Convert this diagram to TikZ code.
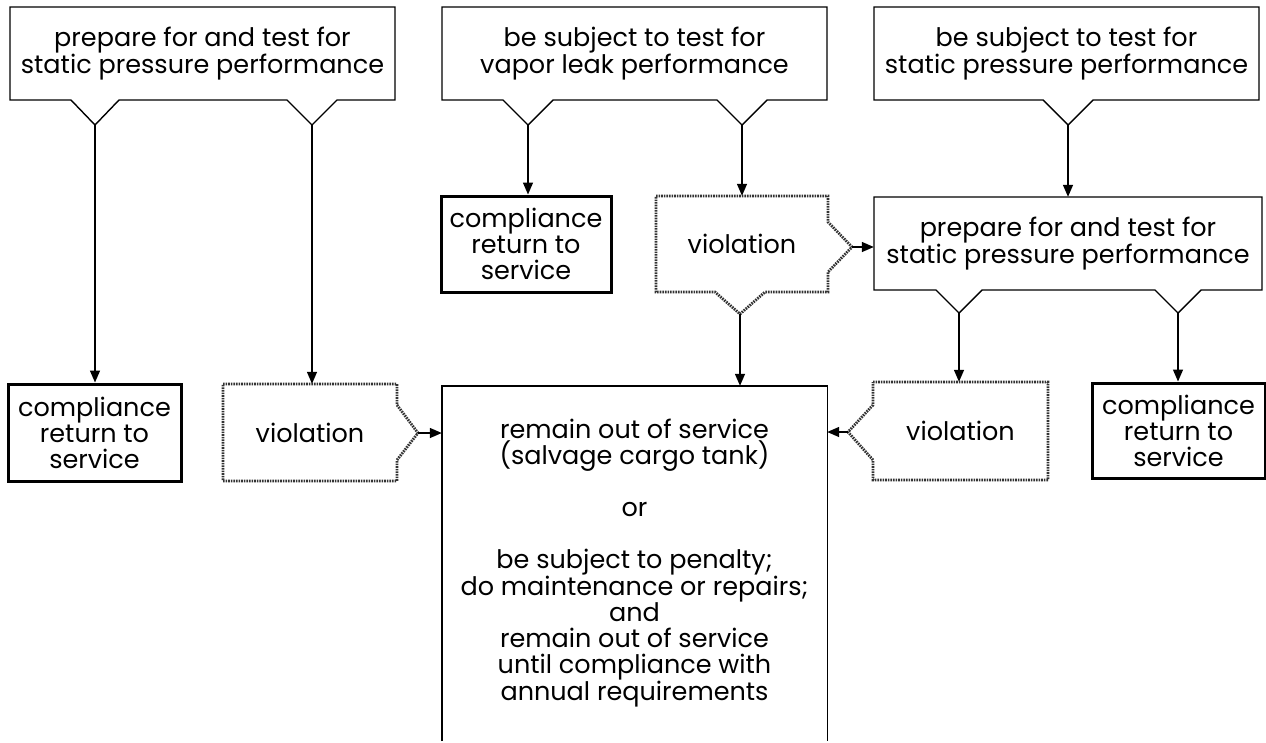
\documentclass[tikz,border=0pt]{standalone}
\usepackage{fontspec}
\setmainfont{Poppins}
\usetikzlibrary{arrows.meta}

\tikzset{
  txt/.style={align=center,font=\fontsize{25.5}{26}\selectfont,inner sep=0pt},
  plain/.style={line width=1.4pt,line join=miter},
  comply/.style={draw,line width=3pt,inner sep=0pt},
  viol/.style={draw=black!80,line width=2.8pt,dash pattern=on 1.6pt off 1pt},
  arr/.style={line width=1.4pt,-{Triangle[length=12pt,width=10pt]}},
}

\begin{document}
\begin{tikzpicture}[x=1pt,y=-1pt]
  \useasboundingbox (0,0) rectangle (1266,742);

  % top row
  \node[txt] (TL) at (202.5,53.5) {prepare for and test for\\static pressure performance};
  \draw[plain] (10,7) -- (395,7) -- (395,100) -- (337,100) -- (312,125) coordinate (tl2)
    -- (287,100) -- (119,100) -- (95,125) coordinate (tl1) -- (71,100) -- (10,100) -- cycle;

  \node[txt] (TM) at (634.5,53.5) {be subject to test for\\vapor leak performance};
  \draw[plain] (442,7) -- (827,7) -- (827,100) -- (767,100) -- (742,125) coordinate (tm2)
    -- (717,100) -- (553,100) -- (528,125) coordinate (tm1) -- (503,100) -- (442,100) -- cycle;

  \node[txt] (TR) at (1066.5,53.5) {be subject to test for\\static pressure performance};
  \draw[plain] (874,7) -- (1259,7) -- (1259,100) -- (1093,100) -- (1068,125) coordinate (tr1)
    -- (1043,100) -- (874,100) -- cycle;

  % middle row
  \node[txt,comply,minimum width=170pt,minimum height=96pt] (C2) at (526,244) {compliance\\return to\\service};

  \node[txt,minimum width=172pt,minimum height=96pt] (V2) at (742,244) {violation};
  \draw[viol] (656,196) -- (828,196) -- (828,222) -- (852,247) coordinate (v2r) -- (828,272)
    -- (828,292) -- (765,292) -- (740,314) coordinate (v2b) -- (715,292) -- (656,292) -- cycle;

  \node[txt,minimum width=388pt,minimum height=93pt] (P2) at (1068,243.5) {prepare for and test for\\static pressure performance};
  \draw[plain] (874,197) -- (1262,197) -- (1262,290) -- (1201,290) -- (1178,313) coordinate (p2r)
    -- (1155,290) -- (982,290) -- (959,313) coordinate (p2l) -- (936,290) -- (874,290) -- cycle;

  % bottom row
  \node[txt,comply,minimum width=173pt,minimum height=97pt] (C1) at (94.5,432.5) {compliance\\return to\\service};

  \node[txt,minimum width=174pt,minimum height=97pt] (V1) at (310,432.5) {violation};
  \draw[viol] (223,384) -- (397,384) -- (397,405) -- (418,433) coordinate (v1r) -- (397,460)
    -- (397,481) -- (223,481) -- cycle;

  \node[txt,minimum width=385pt,minimum height=355pt] (R) at (634.5,563.5)
    {remain out of service\\(salvage cargo tank)\\[26pt]or\\[26pt]be subject to penalty;\\do maintenance or repairs;\\and\\remain out of service\\until compliance with\\annual requirements};
  \draw[plain] (R.south west) -- (R.north west) -- (R.north east) -- (R.south east);

  \node[txt,minimum width=175pt,minimum height=98pt] (V3) at (960.5,431) {violation};
  \draw[viol] (873,382) -- (1048,382) -- (1048,480) -- (873,480) -- (873,460)
    -- (848,432) coordinate (v3l) -- (873,405) -- cycle;

  \node[txt,comply,minimum width=173pt,minimum height=95pt] (C3) at (1178.5,430.5) {compliance\\return to\\service};

  % connectors
  \draw[arr] (tl1) -- (tl1 |- C1.north);
  \draw[arr] (tl2) -- (tl2 |- V1.north);
  \draw[arr] (tm1) -- (tm1 |- C2.north);
  \draw[arr] (tm2) -- (tm2 |- V2.north);
  \draw[arr] (tr1) -- (tr1 |- P2.north);
  \draw[arr] (v2r) -- (v2r -| P2.west);
  \draw[arr] (v2b) -- (v2b |- R.north);
  \draw[arr] (p2l) -- (p2l |- V3.north);
  \draw[arr] (p2r) -- (p2r |- C3.north);
  \draw[arr] (v1r) -- (v1r -| R.west);
  \draw[arr] (v3l) -- (v3l -| R.east);
\end{tikzpicture}
\end{document}
